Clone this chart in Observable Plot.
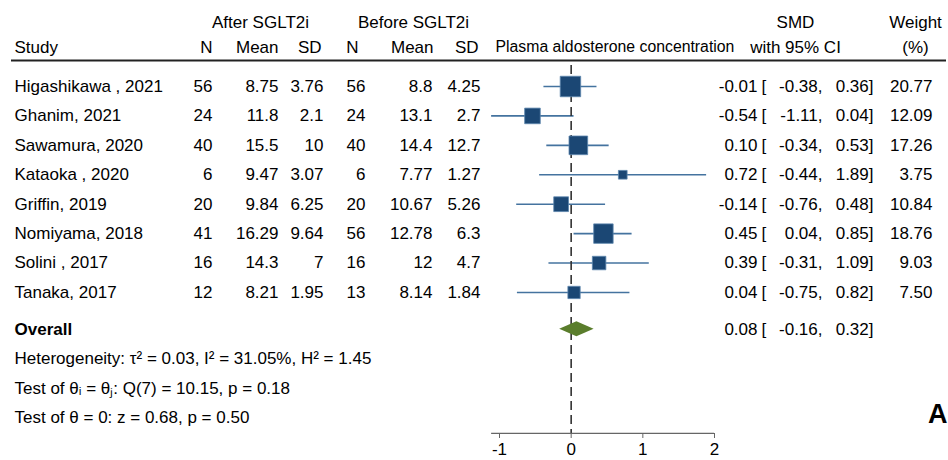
<!DOCTYPE html>
<html>
<head>
<meta charset="utf-8">
<script src="https://cdn.jsdelivr.net/npm/d3@7"></script>
<script src="https://cdn.jsdelivr.net/npm/@observablehq/plot@0.6"></script>
<style>
  html, body { margin: 0; padding: 0; background: #fff; }
  #chart svg { display: block; }
</style>
</head>
<body>
<div id="chart"></div>
<script>
// ---- data ----
const studies = ["Higashikawa , 2021", "Ghanim, 2021", "Sawamura, 2020", "Kataoka , 2020",
                 "Griffin, 2019", "Nomiyama, 2018", "Solini , 2017", "Tanaka, 2017"];
const afterN = [56, 24, 40, 6, 20, 41, 16, 12];
const afterMean = ["8.75", "11.8", "15.5", "9.47", "9.84", "16.29", "14.3", "8.21"];
const afterSD = ["3.76", "2.1", "10", "3.07", "6.25", "9.64", "7", "1.95"];
const beforeN = [56, 24, 40, 6, 20, 56, 16, 13];
const beforeMean = ["8.8", "13.1", "14.4", "7.77", "10.67", "12.78", "12", "8.14"];
const beforeSD = ["4.25", "2.7", "12.7", "1.27", "5.26", "6.3", "4.7", "1.84"];
const smd = [-0.01, -0.54, 0.10, 0.72, -0.14, 0.45, 0.39, 0.04];
const lower = [-0.38, -1.11, -0.34, -0.44, -0.76, 0.04, -0.31, -0.75];
const upper = [0.36, 0.04, 0.53, 1.89, 0.48, 0.85, 1.09, 0.82];
const weight = [20.77, 12.09, 17.26, 3.75, 10.84, 18.76, 9.03, 7.50];
const overallSMD = 0.08, overallLower = -0.16, overallUpper = 0.32;
const statLines = [
  "Heterogeneity: \u03C4\u00B2 = 0.03, I\u00B2 = 31.05%, H\u00B2 = 1.45",
  "Test of \u03B8\u1D62 = \u03B8\u2C7C: Q(7) = 10.15, p = 0.18",
  "Test of \u03B8 = 0: z = 0.68, p = 0.50"
];
const xTicks = [-1, 0, 1, 2];

// ---- table built from the arrays ----
const rows = studies.map((s, i) => ({
  study: s, row: i,
  aN: afterN[i], aM: afterMean[i], aS: afterSD[i],
  bN: beforeN[i], bM: beforeMean[i], bS: beforeSD[i],
  est: smd[i], lo: lower[i], hi: upper[i], w: weight[i]
}));
const overallRow = studies.length + 0.25;
const overall = [{est: overallSMD, lo: overallLower, hi: overallUpper, row: overallRow}];
const stats = statLines.map((t, k) => ({text: t, row: overallRow + 1 + k}));
const headRow1 = -2.19, headRow2 = -1.34, ruleRow = -0.884, axisRow = 11.79;
const xMin = d3.min(lower);
const diamondH = 0.255;
const diamond = overall.flatMap(d => [
  {x: d.lo, y1: d.row, y2: d.row},
  {x: d.est, y1: d.row - diamondH, y2: d.row + diamondH},
  {x: d.hi, y1: d.row, y2: d.row}
]);

const F = "'Liberation Sans', Arial, sans-serif";
const fmt = v => v.toFixed(2);
const col = (data, text, dx, anchor, extra = {}) =>
  Plot.text(data, {y: "row", text, frameAnchor: "left", dx, textAnchor: anchor, ...extra});

const chart = Plot.plot({
  width: 948, height: 460,
  marginLeft: 0, marginRight: 0, marginTop: 0, marginBottom: 27,
  style: {fontFamily: F, fontSize: "17px", background: "#fff", color: "#000"},
  x: {domain: [-1, 2], range: [499, 714]},
  y: {domain: [0, 11.25], range: [86, 417], axis: null},
  r: {type: "sqrt", domain: [0, 20.77], range: [0, 11.55]},
  marks: [
    // header
    Plot.text(["After SGLT2i"], {y: headRow1, frameAnchor: "left", dx: 260, textAnchor: "middle"}),
    Plot.text(["Before SGLT2i"], {y: headRow1, frameAnchor: "left", dx: 413, textAnchor: "middle"}),
    Plot.text(["SMD"], {y: headRow1, frameAnchor: "left", dx: 795, textAnchor: "middle"}),
    Plot.text(["Weight"], {y: headRow1, frameAnchor: "left", dx: 915, textAnchor: "middle"}),
    Plot.text(["Study"], {y: headRow2, frameAnchor: "left", dx: 14, textAnchor: "start"}),
    Plot.text(["N"], {y: headRow2, frameAnchor: "left", dx: 212, textAnchor: "end"}),
    Plot.text(["Mean"], {y: headRow2, frameAnchor: "left", dx: 278, textAnchor: "end"}),
    Plot.text(["SD"], {y: headRow2, frameAnchor: "left", dx: 321, textAnchor: "end"}),
    Plot.text(["N"], {y: headRow2, frameAnchor: "left", dx: 358, textAnchor: "end"}),
    Plot.text(["Mean"], {y: headRow2, frameAnchor: "left", dx: 433, textAnchor: "end"}),
    Plot.text(["SD"], {y: headRow2, frameAnchor: "left", dx: 478, textAnchor: "end"}),
    Plot.text(["Plasma aldosterone concentration"], {y: headRow2, frameAnchor: "left", dx: 495, textAnchor: "start", fontSize: 15.8}),
    Plot.text(["with 95% CI"], {y: headRow2, frameAnchor: "left", dx: 795, textAnchor: "middle"}),
    Plot.text(["(%)"], {y: headRow2, frameAnchor: "left", dx: 915, textAnchor: "middle"}),
    Plot.ruleY([ruleRow], {insetLeft: 11, insetRight: 2, stroke: "#222", strokeWidth: 2}),

    // table columns
    col(rows, "study", 14, "start"),
    col(rows, d => String(d.aN), 212, "end"),
    col(rows, "aM", 278, "end"),
    col(rows, "aS", 323, "end"),
    col(rows, d => String(d.bN), 365, "end"),
    col(rows, "bM", 432, "end"),
    col(rows, "bS", 480, "end"),
    col(rows, d => fmt(d.est), 757, "end"),
    col(rows, () => "[", 761, "start"),
    col(rows, d => fmt(d.lo) + ",", 822, "end"),
    col(rows, d => fmt(d.hi) + "]", 873, "end"),
    col(rows, d => fmt(d.w), 932, "end"),

    // overall row
    col(overall, () => "Overall", 14, "start", {fontWeight: "bold"}),
    col(overall, d => fmt(d.est), 757, "end"),
    col(overall, () => "[", 761, "start"),
    col(overall, d => fmt(d.lo) + ",", 822, "end"),
    col(overall, d => fmt(d.hi) + "]", 873, "end"),

    // statistics
    col(stats, "text", 14, "start"),

    // forest plot
    Plot.ruleY(rows, {y: "row", x1: "lo", x2: "hi", stroke: "#44739f", strokeWidth: 1.6}),
    Plot.ruleX([0], {y1: -0.71, y2: axisRow, stroke: "#333", strokeWidth: 1.6, strokeDasharray: "9,5"}),
    Plot.dot(rows, {x: "est", y: "row", r: "w", symbol: "square", fill: "#1b4774", stroke: "#5d86ad", strokeWidth: 0.8}),
    Plot.areaY(diamond, {x: "x", y1: "y1", y2: "y2", fill: "#5a7d2c"}),

    // axis
    Plot.ruleY([axisRow], {x1: xMin, x2: d3.max(xTicks), stroke: "#666", strokeWidth: 1.3}),
    Plot.axisX({ticks: xTicks, tickSize: 5, tickPadding: 4, tickFormat: d => String(d), stroke: "#666", fill: "#000"}),

    // panel label
    Plot.text(["A"], {y: 11.15, frameAnchor: "left", dx: 947, textAnchor: "end", fontSize: 27, fontWeight: "bold"})
  ]
});
document.getElementById("chart").appendChild(chart);
</script>
</body>
</html>
